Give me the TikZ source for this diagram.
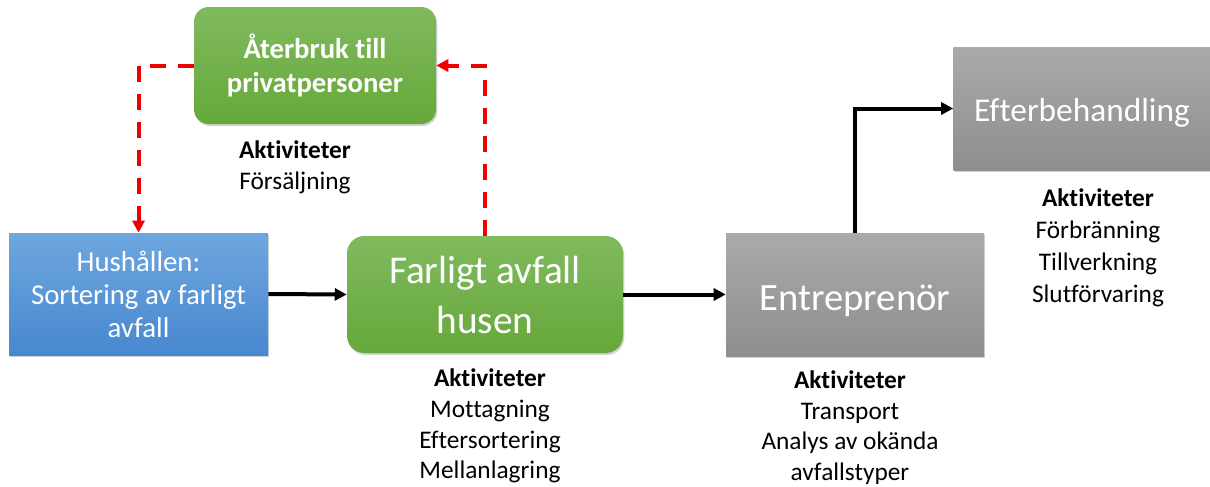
\documentclass[tikz,border=0pt]{standalone}
\usepackage{fontspec}
\setmainfont[Ligatures=NoCommon]{Carlito}
\usetikzlibrary{arrows.meta,shadows}
\definecolor{gtop}{HTML}{80BA5E}
\definecolor{gbot}{HTML}{66A83A}
\definecolor{btop}{HTML}{6EA7DF}
\definecolor{bbot}{HTML}{4888CF}
\definecolor{stop}{HTML}{AAAAAA}
\definecolor{sbot}{HTML}{8E8E8E}
\definecolor{dred}{HTML}{F00000}
\begin{document}
\begin{tikzpicture}[x=0.75pt,y=-0.75pt,
  boxbase/.style={draw=none, text=white, align=center, inner sep=0pt,
    drop shadow={opacity=0.35, shadow xshift=1pt, shadow yshift=-1.5pt}},
  greenbox/.style={boxbase, rounded corners=11pt, top color=gtop, bottom color=gbot},
  bluebox/.style={boxbase, top color=btop, bottom color=bbot},
  graybox/.style={boxbase, top color=stop, bottom color=sbot},
  acttext/.style={align=center, inner sep=0pt, font=\fontsize{19}{23}\selectfont},
  blk/.style={line width=3pt, -{Triangle[length=9pt,width=9pt]}},
  reddash/.style={line width=3pt, dred, dash pattern=on 12pt off 9pt,
    -{Triangle[length=9pt,width=9pt]}}
]
\useasboundingbox (0,0) rectangle (1210,486);

\node[greenbox, minimum width=181.5pt, minimum height=87.75pt,
  font=\bfseries\fontsize{21.5}{26}\selectfont] (aterbruk) at (315,65.5)
  {Återbruk till\\privatpersoner};
\node[bluebox, minimum width=194.25pt, minimum height=91.5pt,
  font=\fontsize{21.6}{24.8}\selectfont] (hush) at (138.5,294)
  {Hushållen:\\Sortering av farligt\\avfall};
\node[greenbox, rounded corners=13pt, minimum width=207pt, minimum height=87.75pt,
  font=\fontsize{29.5}{37.5}\selectfont] (farligt) at (485,294.5)
  {Farligt avfall\\husen};
\node[graybox, minimum width=193.5pt, minimum height=92.25pt,
  font=\fontsize{29}{35}\selectfont] (entre) at (855,294.5)
  {\raisebox{-4.5pt}[\height][\depth]{Entreprenör}};
\node[graybox, minimum width=192.75pt, minimum height=92.25pt,
  font=\fontsize{25}{30}\selectfont] (efter) at (1082,108.5)
  {\raisebox{-3pt}[\height][\depth]{Efterbehandling}};

\node[acttext] (actA) at (295,167) {\textbf{Aktiviteter}\\Försäljning};
\node[acttext] (actF) at (490,426) {\textbf{Aktiviteter}\\Mottagning\\Eftersortering\\Mellanlagring};
\node[acttext] (actE) at (850,427.5) {\textbf{Aktiviteter}\\Transport\\Analys av okända\\avfallstyper};
\node[acttext, font=\fontsize{19}{24}\selectfont] (actB) at (1098,248) {\textbf{Aktiviteter}\\Förbränning\\Tillverkning\\Slutförvaring};

\draw[blk] (hush.east) -- (farligt.west);
\draw[blk] (farligt.east) -- (entre.west);
\draw[blk] (entre.north) |- (efter.west);
\draw[reddash] (aterbruk.west) -| (hush.north);
\draw[reddash] (farligt.north) |- (aterbruk.east);
\end{tikzpicture}
\end{document}
